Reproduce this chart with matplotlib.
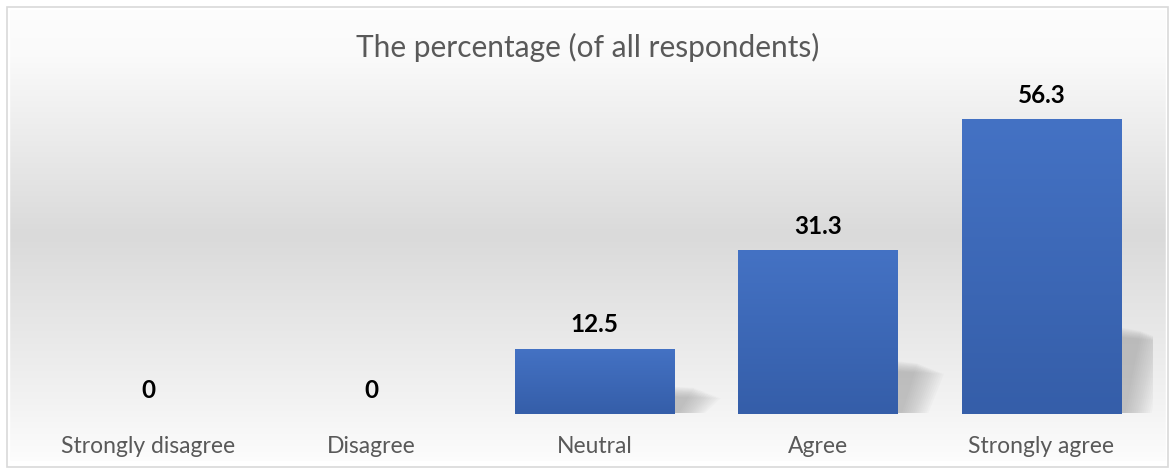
import matplotlib as mpl
mpl.use('Agg')

import numpy as np
import matplotlib.pyplot as plt
from matplotlib.patches import Rectangle, Polygon
from matplotlib.colors import LinearSegmentedColormap

# data
categories = ['Strongly disagree', 'Disagree', 'Neutral', 'Agree', 'Strongly agree']
percentages = [0, 0, 12.5, 31.3, 56.3]
value_labels = ['0', '0', '12.5', '31.3', '56.3']
title = 'The percentage (of all respondents)'

plt.rcParams['font.family'] = ['Lato', 'DejaVu Sans']

W, H = 1175, 470
fig = plt.figure(figsize=(W / 100, H / 100), dpi=100)

# background gradient: white top, grey middle, white bottom
bg = fig.add_axes([0, 0, 1, 1], zorder=0)
bg_cmap = LinearSegmentedColormap.from_list(
    'bg', [(0, '#fdfdfd'), (0.12, '#fafafa'), (0.5, '#dadada'), (0.85, '#f2f2f2'), (1, '#fefefe')])
grad = np.linspace(0, 1, 256).reshape(-1, 1)
bg.imshow(grad, aspect='auto', cmap=bg_cmap, extent=[0, 1, 0, 1], origin='upper')
bg.set_xlim(0, 1)
bg.set_ylim(0, 1)
bg.axis('off')
# white margin + border
bg.add_patch(Rectangle((0, 0), 1, 1, fill=False, edgecolor='white', lw=14, transform=bg.transAxes))
bg.add_patch(Rectangle((7 / W, 3 / H), 1 - 14 / W, 1 - 10 / H, fill=False,
                       edgecolor='#d9d9d9', lw=1.2, transform=bg.transAxes))

# main axes: bars
left, right = 36.5 / W, 1153 / W
bottom = (H - 414) / H
top = (H - 60) / H
ax = fig.add_axes([left, bottom, right - left, top - bottom], zorder=1)
ax.patch.set_alpha(0)
x = np.arange(len(categories))
ymax = 354 / 5.24
ax.set_xlim(-0.5, len(categories) - 0.5)
ax.set_ylim(0, ymax)

bar_w = 0.714
bars = ax.bar(x, percentages, width=bar_w, color='#3f6cbf', zorder=3)

# soft shadows behind bars
for xi, v in zip(x, percentages):
    if v <= 0:
        continue
    r = xi + bar_w / 2
    sh = v * 0.26 + 2
    for k in range(14):
        spread = 0.02 + k * 0.009
        poly = Polygon([(r - 0.02, 0.2), (r - 0.02, sh - k * 0.15), (r + spread + 0.07, sh * 0.95 - k * 0.15),
                        (r + spread, 0.2)],
                       closed=True, facecolor='#8f8f8f', alpha=0.045, edgecolor='none', zorder=2)
        ax.add_patch(poly)

# vertical gradient on the bars
bar_cmap = LinearSegmentedColormap.from_list('bar', ['#355ea9', '#4472c4'])
for b in bars:
    if b.get_height() <= 0:
        continue
    x0, w, h = b.get_x(), b.get_width(), b.get_height()
    im = ax.imshow(np.linspace(0, 1, 100).reshape(-1, 1), aspect='auto', cmap=bar_cmap,
                   extent=[x0, x0 + w, 0, h], origin='lower', zorder=4)
    im.set_clip_path(b)
ax.set_xlim(-0.5, len(categories) - 0.5)
ax.set_ylim(0, ymax)

for xi, v, lab in zip(x, percentages, value_labels):
    ax.text(xi, v + 2.3, lab, ha='center', va='bottom', fontsize=17.5, fontweight='bold',
            color='black', zorder=5)

ax.set_xticks(x)
ax.set_xticklabels(categories, fontsize=16.5, color='#595959')
ax.tick_params(axis='x', length=0, pad=16)
ax.set_yticks([])
for s in ax.spines.values():
    s.set_visible(False)

fig.text(0.5, 1 - 47 / H, title, ha='center', va='center', fontsize=21.5, color='#595959')

fig.savefig('out.png', dpi=100)
